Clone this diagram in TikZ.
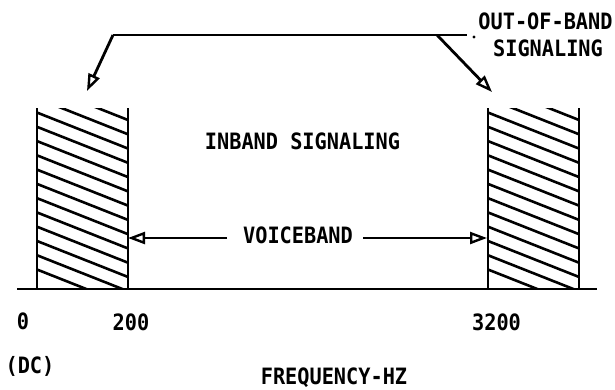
\documentclass[tikz,border=0pt]{standalone}
\usepackage{fontspec}
\setmainfont[FakeStretch=0.9]{DejaVu Sans Mono}
\usetikzlibrary{arrows.meta}
\begin{document}
\begin{tikzpicture}[x=1pt,y=-1pt,
  lbl/.style={font=\bfseries\fontsize{22.5}{26}\selectfont, inner sep=0pt,
              text height=16.4pt, text depth=0pt, anchor=center},
  ln/.style={line width=2.8pt},
  hatchline/.style={line width=2.6pt},
  opentip/.style={-{Triangle[open,length=17pt,width=12pt,line width=2.4pt]}}
]
\useasboundingbox (0,0) rectangle (615,389);

% ---------- bands ----------
\coordinate (LBtl) at (37,108);  \coordinate (LBbl) at (37,289);
\coordinate (LBtr) at (128,108); \coordinate (LBbr) at (128,289);
\coordinate (RBtl) at (488,108); \coordinate (RBbl) at (488,289);
\coordinate (RBtr) at (579,108); \coordinate (RBbr) at (579,289);

\begin{scope}
  \clip (LBtl) rectangle (LBbr);
  \foreach \k in {0,...,13} \draw[hatchline] (37,84+14.27*\k) -- ++(91,36);
\end{scope}
\begin{scope}
  \clip (RBtl) rectangle (RBbr);
  \foreach \k in {0,...,13} \draw[hatchline] (488,84+14.27*\k) -- ++(91,36);
\end{scope}
\draw[ln] (LBtl) -- (LBbl);
\draw[ln] (LBtr) -- (LBbr);
\draw[ln] (RBtl) -- (RBbl);
\draw[ln] (RBtr) -- (RBbr);

% ---------- axis ----------
\coordinate (axL) at (17,289);
\coordinate (axR) at (597,289);
\draw[ln] (axL) -- (axR);

% ---------- labels ----------
\node[lbl] (oob)  at (545.5,21.5) {OUT-OF-BAND};
\node[lbl] (sig)  at (548,48)     {SIGNALING};
\node[lbl] (inb)  at (302.5,141.5){INBAND SIGNALING};
\node[lbl] (vb)   at (298,235.5)  {VOICEBAND};
\node[lbl] (f0)   at (23,321.5)   {0};
\node[lbl] (f200) at (131,322)    {200};
\node[lbl] (f3200)at (496.5,322)  {3200};
\node[lbl] (dc)   at (30,365)     {(DC)};
\node[lbl] (fhz)  at (334,376.5)  {FREQUENCY-HZ};

% ---------- out-of-band leader ----------
\coordinate (tl) at (113,35);
\coordinate (tr) at (467,35);
\coordinate (tb) at (437,35);
\coordinate (tipL) at (87,91);
\coordinate (tipR) at (492,92);
\draw[ln] (tl) -- (tr);
\draw[ln,opentip] (tl) -- (tipL);
\draw[ln,opentip] (tb) -- (tipR);
\fill (474,37) circle (1.6pt);

% ---------- voiceband arrows ----------
\coordinate (vL) at (227,238);
\coordinate (vR) at (363,238);
\coordinate (vLt) at (128,238);
\coordinate (vRt) at (487,238);
\draw[ln,opentip] (vL) -- (vLt);
\draw[ln,opentip] (vR) -- (vRt);
\end{tikzpicture}
\end{document}
